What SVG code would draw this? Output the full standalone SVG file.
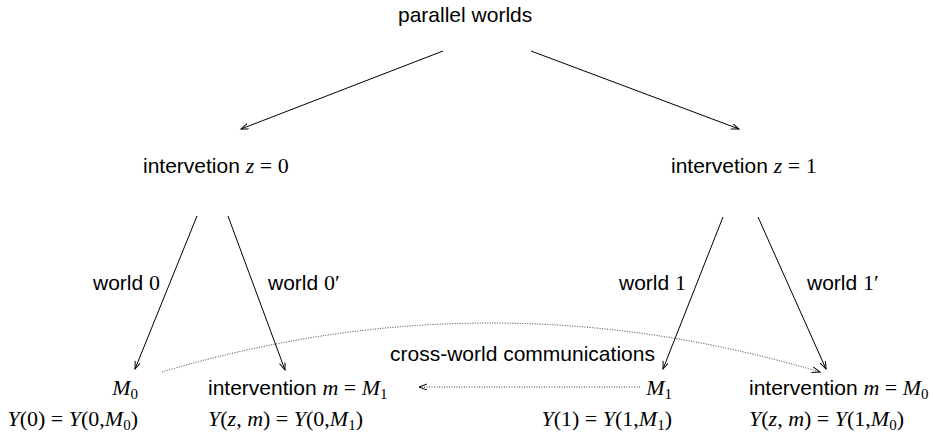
<svg xmlns="http://www.w3.org/2000/svg" width="933" height="435" viewBox="0 0 933 435">
<style>
.s{font-family:"Liberation Sans",Arial,sans-serif;font-size:21px;fill:#000}
.m{font-family:"Liberation Serif","Times New Roman",serif;font-size:22px;fill:#000}
.i{font-style:italic}
.sub{font-size:15px}
.e{text-anchor:end}
.ln{stroke:#000;stroke-width:1;fill:none}
.dt{stroke:#333;stroke-width:1;fill:none;stroke-dasharray:1 1.5}
</style>
<defs>
<marker id="ah" markerWidth="10" markerHeight="8" refX="8" refY="3" orient="auto" markerUnits="userSpaceOnUse">
<path d="M0,0 L8,3 L0,6" fill="none" stroke="#000" stroke-width="1"/>
</marker>
</defs>
<rect width="933" height="435" fill="#fff"/>
<g id="connectors">
<line class="ln" x1="443" y1="51" x2="241" y2="129" marker-end="url(#ah)"/>
<line class="ln" x1="531" y1="51" x2="739" y2="129" marker-end="url(#ah)"/>
<line class="ln" x1="197" y1="216" x2="135" y2="369" marker-end="url(#ah)"/>
<line class="ln" x1="228" y1="216" x2="285" y2="370" marker-end="url(#ah)"/>
<line class="ln" x1="723" y1="217" x2="663" y2="369" marker-end="url(#ah)"/>
<line class="ln" x1="758" y1="217" x2="826" y2="369" marker-end="url(#ah)"/>
<path class="dt" d="M162,372 Q490,274 820,372" marker-end="url(#ah)"/>
<line class="dt" x1="640" y1="387" x2="419" y2="387" marker-end="url(#ah)"/>
<text class="s" x="93" y="290">world <tspan class="m">0</tspan></text>
<text class="s" x="268" y="290">world <tspan class="m">0′</tspan></text>
<text class="s" x="619" y="290">world <tspan class="m">1</tspan></text>
<text class="s" x="807" y="290">world <tspan class="m">1′</tspan></text>
<text class="s" x="390" y="361">cross-world communications</text>
</g>
<g id="parallel-worlds">
<text class="s" x="398" y="22">parallel worlds</text>
</g>
<g id="intervention-z0">
<text class="s" x="143" y="173">intervetion <tspan class="m i">z</tspan><tspan class="m"> = 0</tspan></text>
</g>
<g id="intervention-z1">
<text class="s" x="671" y="173">intervetion <tspan class="m i">z</tspan><tspan class="m"> = 1</tspan></text>
</g>
<g id="M0">
<text class="m e" x="138" y="395"><tspan class="i">M</tspan><tspan class="sub" dy="4">0</tspan></text>
<text class="m e" x="138" y="426"><tspan class="i">Y</tspan>(0) = <tspan class="i">Y</tspan>(0,<tspan class="i">M</tspan><tspan class="sub" dy="4">0</tspan><tspan dy="-4">)</tspan></text>
</g>
<g id="intervention-m-M1">
<text class="s" x="208" y="395">intervention <tspan class="m i">m</tspan><tspan class="m"> = </tspan><tspan class="m i">M</tspan><tspan class="m sub" dy="4">1</tspan></text>
<text class="m" x="208" y="426"><tspan class="i">Y</tspan>(<tspan class="i">z</tspan>, <tspan class="i">m</tspan>) = <tspan class="i">Y</tspan>(0,<tspan class="i">M</tspan><tspan class="sub" dy="4">1</tspan><tspan dy="-4">)</tspan></text>
</g>
<g id="M1">
<text class="m e" x="672" y="395"><tspan class="i">M</tspan><tspan class="sub" dy="4">1</tspan></text>
<text class="m e" x="672" y="426"><tspan class="i">Y</tspan>(1) = <tspan class="i">Y</tspan>(1,<tspan class="i">M</tspan><tspan class="sub" dy="4">1</tspan><tspan dy="-4">)</tspan></text>
</g>
<g id="intervention-m-M0">
<text class="s" x="749" y="395">intervention <tspan class="m i">m</tspan><tspan class="m"> = </tspan><tspan class="m i">M</tspan><tspan class="m sub" dy="4">0</tspan></text>
<text class="m" x="749" y="426"><tspan class="i">Y</tspan>(<tspan class="i">z</tspan>, <tspan class="i">m</tspan>) = <tspan class="i">Y</tspan>(1,<tspan class="i">M</tspan><tspan class="sub" dy="4">0</tspan><tspan dy="-4">)</tspan></text>
</g>
</svg>
